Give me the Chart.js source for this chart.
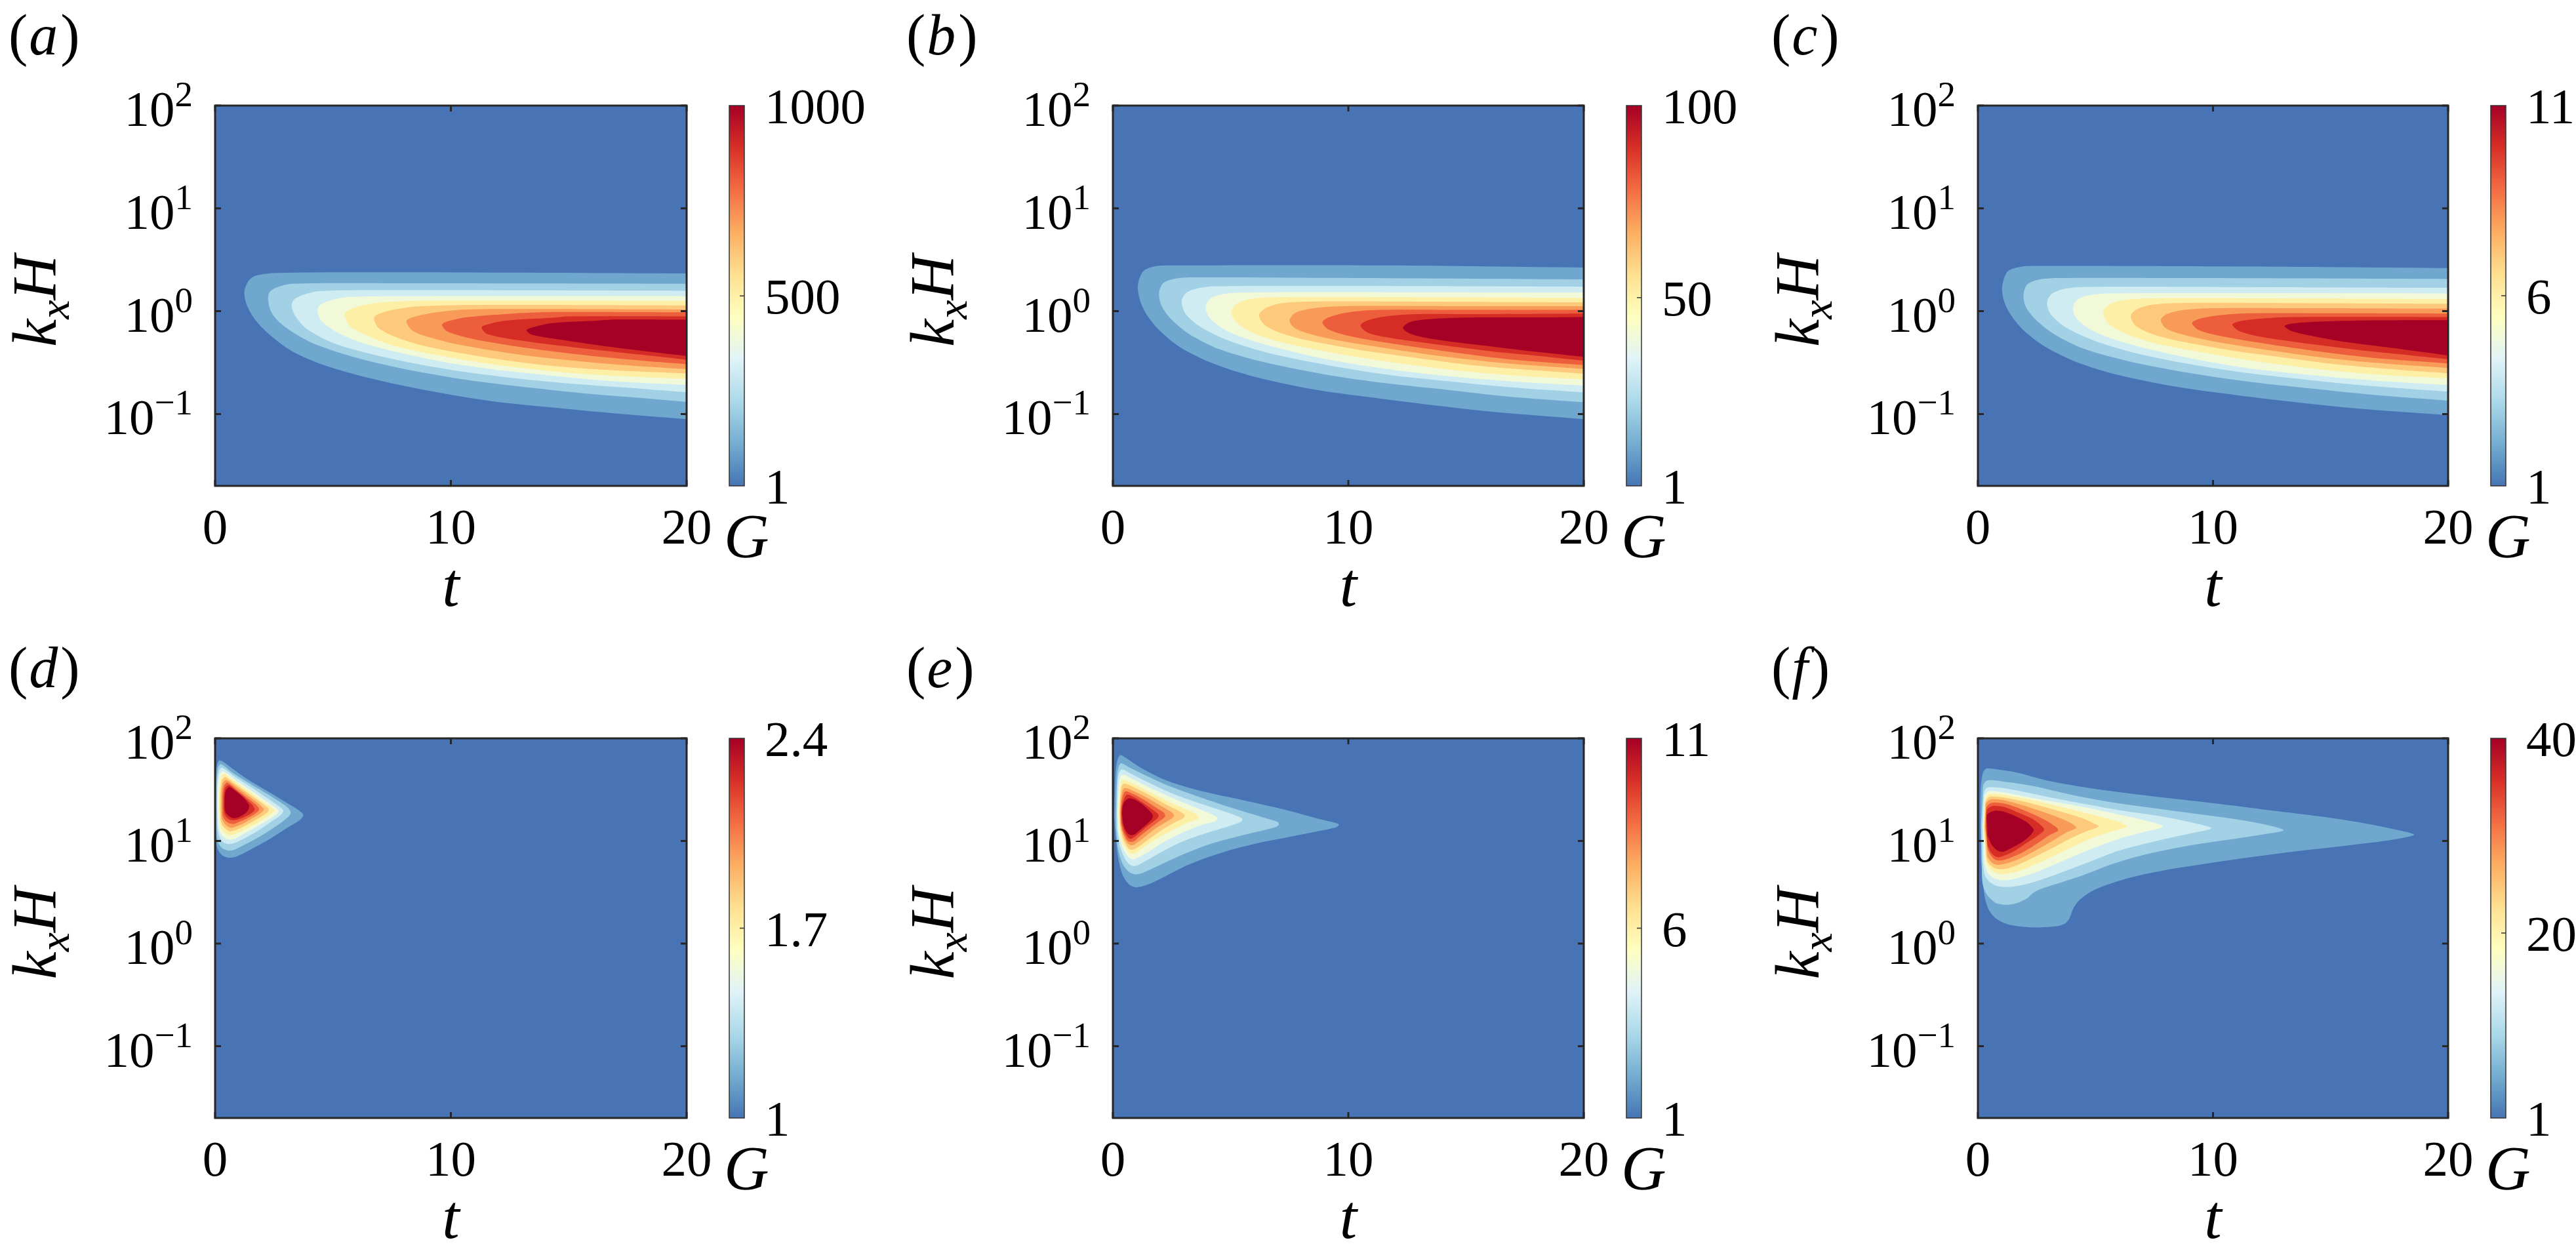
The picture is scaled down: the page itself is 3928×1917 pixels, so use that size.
<!DOCTYPE html>
<html>
<head>
<meta charset="utf-8">
<script src="https://cdn.jsdelivr.net/npm/chart.js@4.4.1/dist/chart.umd.min.js"></script>
<style>
  html, body { margin: 0; padding: 0; background: #fff; }
  #page { position: relative; width: 3928px; height: 1917px; overflow: hidden; background: #fff; }
  canvas { position: absolute; }
</style>
</head>
<body>
<div id="page"></div>
<script>
// filled-contour colours, lowest band first, and the colourbar gradient
const bandColors = ['#4874b5', '#6fa7cf', '#a2d0e5', '#d0ecf3', '#f2f9d8', '#feefa6', '#fdc97c', '#f99b58', '#ed5e3d', '#d52c25', '#a50026'];
const barStops = ['#4575b4', '#74add1', '#abd9e9', '#e0f3f8', '#ffffbf', '#fee090', '#fdae61', '#f46d43', '#d73027', '#a50026'];

const panelLetters = ['a', 'b', 'c', 'd', 'e', 'f'];
const gMax = [1000, 100, 11, 2.4, 11, 40];
const gTicks = [[1, 500, 1000], [1, 50, 100], [1, 6, 11], [1, 1.7, 2.4], [1, 6, 11], [1, 20, 40]];
const tTicks = [0, 10, 20];
const kTickExp = [-1, 0, 1, 2];
const tRange = [0, 20];
const kRange = [0.02, 100];
const domain = [[0, 0.02], [20, 0.02], [20, 100], [0, 100]];

// contour level outlines [t, kxH], outermost level first
const contoursA = [
  [[20,2.33],[8,2.39],[2.63,2.36],[1.73,2.22],[1.41,1.96],[1.24,1.53],[1.35,1.14],[1.73,0.809],[2.38,0.573],[3.28,0.406],[4.57,0.302],[6.5,0.225],[9.08,0.168],[11.66,0.134],[14.24,0.116],[16.82,0.102],[20,0.089]],
  [[20,1.85],[8,1.87],[3.28,1.85],[2.63,1.71],[2.31,1.53],[2.25,1.29],[2.38,0.985],[2.76,0.770],[3.41,0.602],[4.31,0.471],[5.86,0.359],[7.79,0.281],[10.37,0.220],[12.95,0.185],[15.53,0.160],[18.11,0.143],[20,0.131]],
  [[20,1.58],[8,1.60],[4.44,1.57],[3.80,1.46],[3.34,1.29],[3.25,1.11],[3.41,0.892],[3.92,0.664],[5.21,0.471],[7.79,0.333],[10.37,0.261],[12.95,0.220],[15.53,0.194],[18.11,0.176],[20,0.163]],
  [[20,1.40],[9,1.40],[5.73,1.38],[4.96,1.29],[4.44,1.14],[4.35,1.01],[4.50,0.809],[5.21,0.617],[6.50,0.471],[9.08,0.342],[11.66,0.274],[14.24,0.237],[16.82,0.209],[20,0.192]],
  [[20,1.26],[10,1.27],[7.28,1.23],[6.24,1.14],[5.60,1.01],[5.50,0.915],[5.73,0.715],[6.50,0.573],[7.79,0.448],[10.37,0.342],[12.95,0.281],[15.53,0.246],[18.11,0.228],[20,0.220]],
  [[20,1.14],[11,1.15],[8.57,1.11],[7.53,1.03],[6.83,0.915],[6.74,0.841],[6.95,0.681],[7.79,0.546],[9.08,0.448],[11.66,0.351],[14.24,0.295],[16.82,0.267],[20,0.248]],
  [[20,1.04],[12,1.05],[10.37,1.03],[9.08,0.951],[8.24,0.849],[8.11,0.789],[8.37,0.648],[9.08,0.559],[10.37,0.471],[12.95,0.377],[15.53,0.325],[18.11,0.291],[20,0.274]],
  [[20,0.975],[14,0.98],[12.31,0.937],[10.63,0.870],[9.73,0.778],[9.62,0.733],[9.86,0.632],[11.02,0.532],[12.95,0.448],[15.53,0.377],[18.11,0.330],[20,0.305]],
  [[20,0.892],[15,0.89],[14.24,0.861],[12.31,0.809],[11.40,0.726],[11.30,0.691],[11.53,0.602],[12.95,0.519],[15.53,0.437],[18.11,0.377],[20,0.337]],
  [[20,0.828],[17,0.83],[16.17,0.809],[14.24,0.762],[13.34,0.681],[13.21,0.648],[13.47,0.588],[14.88,0.519],[16.82,0.448],[18.75,0.396],[20,0.368]]
];

const contoursB = [
  [[20,2.66],[11.61,2.79],[2.58,2.79],[1.81,2.74],[1.29,2.45],[1.06,1.78],[1.16,1.26],[1.42,0.937],[1.94,0.664],[2.84,0.448],[4.13,0.318],[5.81,0.237],[8.39,0.176],[10.97,0.145],[13.55,0.122],[16.13,0.105],[20,0.089]],
  [[20,2.04],[9.03,2.11],[3.35,2.13],[2.58,2.06],[2.13,1.87],[1.96,1.50],[2.06,1.14],[2.45,0.849],[3.23,0.602],[4.52,0.427],[6.45,0.318],[9.03,0.242],[11.61,0.199],[14.19,0.172],[16.77,0.148],[20,0.130]],
  [[20,1.73],[10.32,1.76],[4.39,1.75],[3.61,1.67],[3.10,1.50],[2.92,1.23],[3.10,0.937],[3.74,0.698],[4.90,0.519],[6.71,0.387],[9.03,0.302],[11.61,0.242],[14.19,0.209],[16.77,0.183],[20,0.162]],
  [[20,1.52],[11.61,1.53],[5.55,1.52],[4.65,1.46],[4.13,1.32],[3.94,1.09],[4.13,0.849],[4.90,0.632],[6.19,0.494],[8.39,0.368],[10.97,0.288],[13.55,0.242],[16.77,0.209],[20,0.189]],
  [[20,1.35],[12.90,1.37],[6.84,1.37],[5.81,1.31],[5.23,1.17],[5.03,0.985],[5.23,0.789],[5.94,0.617],[7.23,0.494],[9.29,0.396],[11.87,0.318],[14.84,0.261],[17.42,0.234],[20,0.217]],
  [[20,1.22],[12.90,1.24],[8.26,1.24],[7.10,1.19],[6.45,1.06],[6.21,0.915],[6.45,0.733],[7.23,0.602],[8.52,0.507],[10.58,0.416],[12.90,0.351],[15.48,0.295],[18.06,0.265],[20,0.246]],
  [[20,1.12],[14.19,1.12],[9.68,1.12],[8.39,1.06],[7.74,0.961],[7.50,0.809],[7.74,0.681],[8.52,0.588],[9.81,0.507],[11.87,0.427],[14.19,0.359],[16.77,0.310],[20,0.274]],
  [[20,1.03],[15.48,1.03],[11.35,1.03],[9.94,0.970],[9.16,0.870],[8.90,0.778],[9.16,0.664],[10.06,0.573],[11.61,0.494],[14.19,0.406],[16.77,0.342],[20,0.299]],
  [[20,0.947],[15.48,0.937],[12.90,0.937],[11.61,0.892],[10.84,0.817],[10.52,0.726],[10.84,0.617],[11.87,0.546],[13.55,0.482],[16.13,0.406],[18.06,0.368],[20,0.330]],
  [[20,0.879],[17.42,0.870],[15.48,0.870],[13.55,0.841],[12.65,0.789],[12.32,0.688],[12.65,0.602],[13.68,0.532],[15.48,0.471],[17.42,0.416],[20,0.359]]
];

const contoursC = [
  [[20,2.63],[11.6,2.72],[2.6,2.76],[1.8,2.70],[1.25,2.42],[1.03,1.70],[1.13,1.22],[1.40,0.92],[1.92,0.66],[2.84,0.455],[4.13,0.325],[5.81,0.245],[8.39,0.185],[10.97,0.153],[13.55,0.130],[16.13,0.113],[20,0.0975]],
  [[20,2.06],[9.0,2.10],[3.35,2.10],[2.56,2.02],[2.10,1.82],[1.94,1.45],[2.04,1.10],[2.45,0.83],[3.23,0.60],[4.52,0.43],[6.45,0.325],[9.03,0.250],[11.61,0.205],[14.19,0.177],[16.77,0.154],[20,0.135]],
  [[20,1.69],[10.3,1.72],[4.4,1.72],[3.62,1.64],[3.12,1.46],[2.94,1.20],[3.12,0.92],[3.76,0.69],[4.92,0.52],[6.73,0.39],[9.03,0.305],[11.61,0.248],[14.19,0.213],[16.77,0.187],[20,0.165]],
  [[20,1.49],[11.6,1.50],[5.65,1.49],[4.75,1.43],[4.22,1.29],[4.04,1.06],[4.23,0.83],[5.0,0.625],[6.3,0.49],[8.5,0.37],[11.0,0.29],[13.6,0.246],[16.8,0.212],[20,0.191]],
  [[20,1.32],[13,1.33],[7.1,1.33],[6.1,1.27],[5.53,1.14],[5.33,0.96],[5.53,0.77],[6.25,0.61],[7.5,0.49],[9.5,0.40],[12.0,0.322],[14.9,0.267],[17.4,0.238],[20,0.222]],
  [[20,1.18],[13,1.20],[8.5,1.20],[7.35,1.15],[6.72,1.03],[6.50,0.89],[6.72,0.72],[7.5,0.59],[8.8,0.50],[10.8,0.415],[13.0,0.355],[15.5,0.30],[18.0,0.268],[20,0.249]],
  [[20,1.06],[14.2,1.07],[9.9,1.07],[8.65,1.02],[8.0,0.93],[7.78,0.82],[8.0,0.68],[8.8,0.585],[10.0,0.51],[12.0,0.43],[14.2,0.365],[16.8,0.316],[20,0.280]],
  [[20,0.949],[15.5,0.955],[11.5,0.955],[10.2,0.91],[9.4,0.84],[9.11,0.77],[9.37,0.66],[10.3,0.575],[11.8,0.50],[14.2,0.415],[16.8,0.352],[20,0.311]],
  [[20,0.877],[16.5,0.88],[13.2,0.875],[12.0,0.845],[11.1,0.795],[10.82,0.74],[11.12,0.64],[12.1,0.56],[13.7,0.495],[16.2,0.42],[18.1,0.378],[20,0.340]],
  [[20,0.817],[17.5,0.815],[16.0,0.81],[14.3,0.79],[13.4,0.76],[13.04,0.716],[13.35,0.64],[14.3,0.57],[15.7,0.50],[17.6,0.44],[20,0.371]]
];

const contoursD = [
  [[0.01,20.5],[0.02,38.9],[0.08,54.8],[0.20,61.1],[0.66,52.2],[1.31,40.8],[2.24,30.4],[2.98,24.0],[3.58,19.7],[3.74,17.9],[3.58,15.9],[3.07,13.5],[2.33,10.5],[1.59,8.45],[0.94,7.11],[0.57,6.87],[0.29,7.29],[0.10,8.45],[0.03,10.8]],
  [[0.05,20.5],[0.055,37.0],[0.12,50.9],[0.24,56.2],[0.75,46.1],[1.49,36.1],[2.33,27.6],[2.98,22.1],[3.17,20.0],[3.21,18.8],[3.12,17.3],[2.70,14.5],[2.05,11.6],[1.40,9.57],[0.84,8.26],[0.57,8.05],[0.29,8.54],[0.12,9.80],[0.065,12.5]],
  [[0.083,20.5],[0.092,35.2],[0.16,47.3],[0.29,51.7],[0.80,42.9],[1.59,32.7],[2.33,25.0],[2.80,21.0],[2.89,19.7],[2.81,18.1],[2.42,15.6],[1.87,12.8],[1.31,10.8],[0.84,9.57],[0.57,9.33],[0.33,9.80],[0.18,11.1],[0.10,13.8]],
  [[0.12,20.5],[0.13,33.6],[0.20,44.0],[0.33,47.8],[0.84,39.8],[1.59,30.4],[2.24,23.8],[2.61,20.7],[2.70,19.7],[2.63,18.4],[2.28,16.2],[1.77,13.8],[1.26,11.9],[0.84,10.5],[0.58,10.3],[0.38,10.8],[0.21,12.2],[0.14,14.5]],
  [[0.17,20.5],[0.18,31.9],[0.24,41.2],[0.38,45.1],[0.84,37.9],[1.49,29.7],[2.14,23.2],[2.42,21.0],[2.52,20.0],[2.44,18.8],[2.14,16.8],[1.68,14.5],[1.22,12.8],[0.84,11.6],[0.61,11.4],[0.43,11.9],[0.26,13.2],[0.19,15.3]],
  [[0.21,20.5],[0.22,30.4],[0.29,38.9],[0.43,41.9],[0.84,36.1],[1.49,28.2],[2.00,23.2],[2.24,21.0],[2.28,20.2],[2.22,19.0],[1.96,17.3],[1.59,15.4],[1.17,13.7],[0.84,12.7],[0.64,12.4],[0.47,13.0],[0.31,14.2],[0.23,16.0]],
  [[0.26,20.5],[0.27,29.7],[0.33,36.6],[0.47,39.3],[0.84,34.4],[1.40,27.6],[1.87,22.8],[2.03,21.0],[2.07,20.3],[2.00,19.2],[1.77,17.7],[1.45,16.0],[1.12,14.5],[0.84,13.7],[0.66,13.5],[0.50,14.0],[0.35,15.3],[0.28,16.8]],
  [[0.31,20.5],[0.32,28.9],[0.38,34.7],[0.52,37.0],[0.84,32.7],[1.31,26.9],[1.73,22.6],[1.85,21.0],[1.87,20.3],[1.81,19.3],[1.61,17.9],[1.31,16.4],[1.03,15.4],[0.83,14.7],[0.68,14.7],[0.54,15.1],[0.40,16.2],[0.32,17.7]],
  [[0.36,21.0],[0.37,28.2],[0.43,33.2],[0.57,35.2],[0.84,31.6],[1.22,26.9],[1.57,22.6],[1.66,21.0],[1.68,20.3],[1.62,19.3],[1.45,18.1],[1.22,17.0],[0.98,16.2],[0.80,15.9],[0.68,16.0],[0.57,16.4],[0.45,17.4],[0.38,18.6]],
  [[0.40,21.5],[0.41,27.6],[0.47,31.6],[0.61,33.6],[0.84,31.1],[1.17,26.9],[1.40,23.2],[1.45,21.8],[1.40,20.0],[1.26,18.4],[1.03,17.2],[0.84,16.7],[0.71,16.8],[0.58,17.5],[0.47,18.6],[0.42,19.7]]
];

const contoursE = [
  [[0.055,17.7],[0.083,30.4],[0.15,54.8],[0.30,68.4],[0.59,63.5],[1.15,52.2],[2.27,38.9],[3.66,31.1],[5.52,25.0],[7.37,20.0],[8.76,16.4],[9.51,14.9],[9.60,14.4],[9.51,13.7],[8.76,12.5],[7.37,10.8],[5.98,9.33],[4.59,7.66],[3.19,5.85],[1.99,4.25],[1.34,3.66],[0.97,3.54],[0.69,3.76],[0.41,4.69],[0.22,6.95],[0.11,11.4]],
  [[0.13,18.6],[0.19,45.1],[0.33,57.0],[0.69,52.2],[1.34,44.0],[2.27,35.2],[3.66,26.9],[5.05,21.0],[6.44,16.8],[7.00,15.3],[7.05,14.5],[6.95,13.8],[6.44,12.8],[5.33,11.1],[4.12,9.33],[2.92,7.30],[1.80,5.56],[1.24,4.87],[0.97,4.73],[0.69,4.97],[0.41,5.99],[0.22,8.45],[0.13,13.8]],
  [[0.17,18.6],[0.22,40.8],[0.36,49.7],[0.78,45.1],[1.52,37.0],[2.54,28.9],[3.84,22.6],[4.96,18.6],[5.47,16.7],[5.50,16.0],[5.42,15.3],[4.96,14.0],[3.94,11.9],[2.92,9.80],[1.99,7.66],[1.34,6.29],[0.97,5.71],[0.73,5.85],[0.50,6.78],[0.30,8.88],[0.18,13.2]],
  [[0.20,18.6],[0.26,35.2],[0.39,44.0],[0.87,39.8],[1.62,32.7],[2.64,25.6],[3.66,20.5],[4.31,17.7],[4.43,16.7],[4.35,15.6],[3.84,14.5],[3.01,12.2],[2.17,9.80],[1.43,7.66],[1.01,6.78],[0.83,6.61],[0.59,7.30],[0.39,8.88],[0.24,11.9]],
  [[0.24,18.6],[0.30,31.9],[0.41,39.2],[0.87,36.1],[1.62,29.6],[2.54,23.2],[3.29,19.5],[3.61,17.7],[3.64,17.0],[3.57,16.2],[3.19,15.1],[2.54,12.8],[1.80,10.3],[1.24,8.45],[0.92,7.55],[0.76,7.48],[0.58,8.25],[0.41,9.80],[0.28,12.5]],
  [[0.28,18.6],[0.33,29.6],[0.45,36.1],[0.87,33.5],[1.52,28.2],[2.27,22.6],[2.82,19.5],[3.04,18.1],[3.05,17.5],[2.99,16.7],[2.68,15.4],[2.17,13.2],[1.62,10.8],[1.15,8.97],[0.87,8.25],[0.73,8.25],[0.58,8.97],[0.43,10.5],[0.32,13.2]],
  [[0.31,18.6],[0.36,27.5],[0.48,32.7],[0.87,30.7],[1.43,26.5],[2.08,21.7],[2.50,19.0],[2.59,18.1],[2.59,17.5],[2.52,16.7],[2.27,15.4],[1.80,13.2],[1.34,10.9],[1.01,9.57],[0.83,9.10],[0.69,9.24],[0.55,10.0],[0.43,11.6],[0.33,14.2]],
  [[0.33,19.5],[0.39,25.6],[0.52,30.4],[0.87,28.6],[1.34,25.0],[1.89,20.7],[2.17,18.8],[2.22,17.7],[2.17,16.8],[1.94,15.4],[1.57,13.3],[1.20,11.4],[0.92,10.0],[0.76,9.80],[0.64,10.0],[0.52,11.1],[0.41,12.8],[0.34,15.3]],
  [[0.36,18.6],[0.41,23.2],[0.59,28.2],[0.87,26.9],[1.24,23.8],[1.71,20.0],[1.91,18.4],[1.94,17.5],[1.89,16.7],[1.71,15.4],[1.38,13.5],[1.06,11.6],[0.85,10.7],[0.73,10.5],[0.61,11.1],[0.48,12.5],[0.39,14.9]],
  [[0.39,18.1],[0.41,21.5],[0.50,24.3],[0.69,26.0],[0.97,25.0],[1.29,22.4],[1.57,19.5],[1.69,17.9],[1.69,17.0],[1.62,16.0],[1.43,14.5],[1.15,12.8],[0.92,11.6],[0.78,11.4],[0.64,11.8],[0.52,13.0],[0.43,14.9]]
];

const contoursF = [
  [[0.11,13.8],[0.11,28.9],[0.20,45.1],[0.35,50.7],[0.84,49.7],[1.70,46.2],[2.93,38.9],[4.77,32.7],[7.23,27.6],[9.68,23.8],[12.14,20.3],[14.59,17.3],[16.43,14.9],[17.91,12.7],[18.55,11.5],[17.66,10.3],[15.82,9.10],[13.37,7.86],[10.91,6.61],[8.45,5.43],[6.61,4.47],[5.39,3.66],[4.77,3.16],[4.28,2.60],[4.03,2.13],[3.89,1.75],[3.67,1.55],[3.17,1.46],[2.32,1.44],[1.33,1.53],[0.78,1.75],[0.47,2.13],[0.29,2.86],[0.20,4.25],[0.13,6.61]],
  [[0.13,13.8],[0.20,28.9],[0.23,35.2],[0.41,38.9],[1.09,37.9],[2.32,34.4],[4.16,27.6],[6.00,23.2],[8.45,19.5],[10.91,16.4],[12.38,14.2],[13.00,12.7],[12.14,11.6],[10.91,10.5],[9.07,9.10],[7.23,7.48],[5.75,5.99],[4.53,4.69],[3.54,3.94],[2.68,3.40],[2.32,3.08],[2.13,2.80],[1.70,2.50],[1.21,2.38],[0.78,2.47],[0.54,2.73],[0.35,3.08],[0.20,3.85],[0.16,6.61]],
  [[0.18,13.8],[0.23,25.6],[0.27,30.4],[0.41,33.2],[1.09,32.7],[2.32,28.9],[4.16,23.8],[6.00,20.0],[7.84,17.3],[9.44,14.5],[9.93,13.3],[9.07,11.9],[7.84,10.3],[6.00,8.05],[4.53,5.99],[3.30,4.69],[2.32,3.94],[1.46,3.58],[0.84,3.63],[0.47,4.04],[0.29,4.69],[0.20,6.61]],
  [[0.22,13.8],[0.27,23.8],[0.29,27.6],[0.45,30.4],[1.09,29.7],[2.32,26.2],[4.16,22.1],[6.00,18.1],[7.23,15.6],[7.87,13.8],[7.23,12.5],[6.00,10.5],[4.77,8.26],[3.54,6.29],[2.56,5.05],[1.70,4.36],[1.09,4.14],[0.66,4.36],[0.41,4.92],[0.27,5.99]],
  [[0.24,13.8],[0.29,22.6],[0.31,25.6],[0.47,28.6],[1.09,28.2],[2.32,25.0],[3.54,21.5],[5.02,17.7],[6.00,15.3],[6.34,13.8],[5.75,12.5],[4.77,10.5],[3.79,8.26],[2.81,6.45],[1.95,5.30],[1.27,4.81],[0.84,4.81],[0.54,5.30],[0.35,6.14]],
  [[0.27,13.8],[0.30,21.5],[0.33,24.4],[0.50,26.9],[1.09,26.5],[2.07,23.8],[3.30,20.0],[4.40,16.8],[5.02,14.5],[5.14,13.8],[4.65,12.5],[3.91,10.5],[3.05,8.26],[2.19,6.61],[1.46,5.57],[1.03,5.30],[0.72,5.43],[0.47,5.99],[0.35,6.95]],
  [[0.30,13.8],[0.33,20.5],[0.35,23.2],[0.54,25.4],[1.09,25.0],[1.95,22.1],[2.93,18.6],[3.79,15.6],[4.18,13.5],[3.79,12.2],[3.17,10.0],[2.44,8.05],[1.70,6.61],[1.15,5.99],[0.84,5.85],[0.60,6.14],[0.41,6.95]],
  [[0.33,13.8],[0.35,19.5],[0.37,21.5],[0.57,23.5],[1.09,23.2],[1.82,20.5],[2.68,16.8],[3.30,13.8],[3.42,12.7],[3.05,11.4],[2.56,9.57],[1.95,7.86],[1.33,6.78],[0.97,6.45],[0.72,6.61],[0.54,7.30],[0.41,8.46]],
  [[0.35,13.8],[0.38,20.0],[0.62,21.9],[1.09,21.5],[1.70,19.0],[2.32,16.4],[2.75,13.8],[2.81,12.7],[2.50,11.1],[2.07,9.57],[1.58,8.05],[1.15,7.23],[0.90,6.95],[0.72,7.12],[0.54,7.86],[0.41,9.10]],
  [[0.40,13.8],[0.40,18.1],[0.72,19.7],[1.09,19.3],[1.58,17.5],[2.07,15.3],[2.35,13.2],[2.38,12.7],[2.19,11.1],[1.82,9.57],[1.39,8.46],[1.09,7.86],[0.90,7.94],[0.72,8.46],[0.54,9.57],[0.41,11.4]]
];

const contours = [contoursA, contoursB, contoursC, contoursD, contoursE, contoursF];

// page placement of each panel canvas and its plot box (px)
const layout = [
  { left: 0,    top: 0,   w: 1400, h: 960, pl: 328,  pt: 161,  pr: 1047, pb: 741 },
  { left: 1320, top: 0,   w: 1400, h: 960, pl: 1697, pt: 161,  pr: 2415, pb: 741 },
  { left: 2630, top: 0,   w: 1298, h: 960, pl: 3016, pt: 161,  pr: 3733, pb: 741 },
  { left: 0,    top: 960, w: 1400, h: 957, pl: 328,  pt: 1126, pr: 1047, pb: 1705 },
  { left: 1320, top: 960, w: 1400, h: 957, pl: 1697, pt: 1126, pr: 2415, pb: 1705 },
  { left: 2630, top: 960, w: 1298, h: 957, pl: 3016, pt: 1126, pr: 3733, pb: 1705 }
];

const SERIF = '"Liberation Serif", "Times New Roman", serif';

// frame, inward ticks, tick labels, axis titles, panel letter and colourbar
const decor = {
  id: 'decor',
  afterDraw(chart, args, opts) {
    const { ctx, chartArea: a, scales } = chart;
    const xs = scales.x, ys = scales.y, gs = scales.g;
    ctx.save();

    ctx.strokeStyle = '#262626';
    ctx.lineWidth = 3;
    ctx.strokeRect(a.left, a.top, a.right - a.left, a.bottom - a.top);
    ctx.beginPath();
    tTicks.forEach(v => {
      const px = xs.getPixelForValue(v);
      ctx.moveTo(px, a.bottom); ctx.lineTo(px, a.bottom - 9);
      ctx.moveTo(px, a.top); ctx.lineTo(px, a.top + 9);
    });
    kTickExp.forEach(e => {
      const py = ys.getPixelForValue(Math.pow(10, e));
      ctx.moveTo(a.left, py); ctx.lineTo(a.left + 9, py);
      ctx.moveTo(a.right, py); ctx.lineTo(a.right - 9, py);
    });
    ctx.stroke();

    ctx.fillStyle = '#000';
    ctx.textBaseline = 'alphabetic';

    // x tick labels
    ctx.font = '77px ' + SERIF;
    ctx.textAlign = 'center';
    tTicks.forEach(v => ctx.fillText(String(v), xs.getPixelForValue(v), a.bottom + 88));

    // y tick labels as 10 with a raised exponent
    ctx.textAlign = 'left';
    kTickExp.forEach(e => {
      const py = ys.getPixelForValue(Math.pow(10, e));
      const sup = e < 0 ? '\u2212' + (-e) : String(e);
      ctx.font = '55px ' + SERIF;
      const ws = ctx.measureText(sup).width;
      ctx.font = '77px ' + SERIF;
      const wb = ctx.measureText('10').width;
      const x0 = a.left - 34 - ws - wb;
      ctx.fillText('10', x0, py + 31);
      ctx.font = '55px ' + SERIF;
      ctx.fillText(sup, x0 + wb, py + 1);
    });

    // axis titles
    ctx.font = 'italic 95px ' + SERIF;
    ctx.textAlign = 'center';
    ctx.fillText('t', (a.left + a.right) / 2, a.bottom + 183);

    ctx.save();
    ctx.translate(a.left - 243, (a.top + a.bottom) / 2 + 8);
    ctx.rotate(-Math.PI / 2);
    ctx.textAlign = 'left';
    ctx.font = 'italic 95px ' + SERIF;
    const wk = ctx.measureText('k').width, wH = ctx.measureText('H').width;
    ctx.font = 'italic 66px ' + SERIF;
    const wx = ctx.measureText('x').width;
    let cx = -(wk + wx + wH) / 2;
    ctx.font = 'italic 95px ' + SERIF;
    ctx.fillText('k', cx, 0); cx += wk;
    ctx.font = 'italic 66px ' + SERIF;
    ctx.fillText('x', cx, 20); cx += wx;
    ctx.font = 'italic 95px ' + SERIF;
    ctx.fillText('H', cx, 0);
    ctx.restore();

    // panel letter
    let lx = a.left - 315;
    const ly = a.top - 78;
    ctx.textAlign = 'left';
    ctx.font = '88px ' + SERIF;
    ctx.fillText('(', lx, ly); lx += ctx.measureText('(').width + 2;
    ctx.font = 'italic 88px ' + SERIF;
    ctx.fillText(opts.letter, lx, ly); lx += ctx.measureText(opts.letter).width + 4;
    ctx.font = '88px ' + SERIF;
    ctx.fillText(')', lx, ly);

    // colourbar
    const cbL = a.right + 65, cbW = 23;
    const yTop = gs.getPixelForValue(gs.max), yBot = gs.getPixelForValue(gs.min);
    const grad = ctx.createLinearGradient(0, yBot, 0, yTop);
    barStops.forEach((c, i) => grad.addColorStop(i / (barStops.length - 1), c));
    ctx.fillStyle = grad;
    ctx.fillRect(cbL, yTop, cbW, yBot - yTop);
    ctx.strokeStyle = '#333';
    ctx.lineWidth = 1.5;
    ctx.strokeRect(cbL, yTop, cbW, yBot - yTop);
    ctx.fillStyle = '#000';
    ctx.font = '77px ' + SERIF;
    opts.ticks.forEach((v, i) => {
      const py = gs.getPixelForValue(v);
      if (i > 0 && i < opts.ticks.length - 1) {
        ctx.beginPath();
        ctx.moveTo(cbL + cbW - 7, py); ctx.lineTo(cbL + cbW, py);
        ctx.stroke();
      }
      ctx.fillText(String(v), cbL + cbW + 31, py + 27);
    });
    ctx.font = 'italic 95px ' + SERIF;
    ctx.fillText('G', a.right + 57, a.bottom + 109);

    ctx.restore();
  }
};

function toPoints(poly) {
  return poly.map(p => ({ x: p[0], y: p[1] }));
}

function buildPanel(i) {
  const L = layout[i];
  const canvas = document.createElement('canvas');
  canvas.width = L.w;
  canvas.height = L.h;
  canvas.style.left = L.left + 'px';
  canvas.style.top = L.top + 'px';
  canvas.style.width = L.w + 'px';
  canvas.style.height = L.h + 'px';
  document.getElementById('page').appendChild(canvas);

  const levels = contours[i];
  const datasets = [{
    data: toPoints(domain), backgroundColor: bandColors[0], order: levels.length + 1, tension: 0
  }];
  levels.forEach((poly, j) => {
    datasets.push({ data: toPoints(poly), backgroundColor: bandColors[j + 1], order: levels.length - j });
  });

  new Chart(canvas, {
    type: 'scatter',
    data: { datasets },
    options: {
      responsive: false,
      animation: false,
      devicePixelRatio: 1,
      events: [],
      layout: {
        padding: { left: L.pl - L.left, top: L.pt - L.top, right: L.left + L.w - L.pr, bottom: L.top + L.h - L.pb }
      },
      datasets: {
        scatter: {
          showLine: true, fill: 'shape', borderWidth: 0, borderColor: 'rgba(0,0,0,0)',
          pointRadius: 0, pointHoverRadius: 0, tension: 0.3
        }
      },
      scales: {
        x: { type: 'linear', min: tRange[0], max: tRange[1], display: false },
        y: { type: 'logarithmic', min: kRange[0], max: kRange[1], display: false },
        g: { type: 'linear', position: 'right', min: 1, max: gMax[i], display: false }
      },
      plugins: {
        legend: { display: false },
        tooltip: { enabled: false },
        decor: { letter: panelLetters[i], ticks: gTicks[i] }
      }
    },
    plugins: [decor]
  });
}

for (let i = 0; i < 6; i++) buildPanel(i);
</script>
</body>
</html>
